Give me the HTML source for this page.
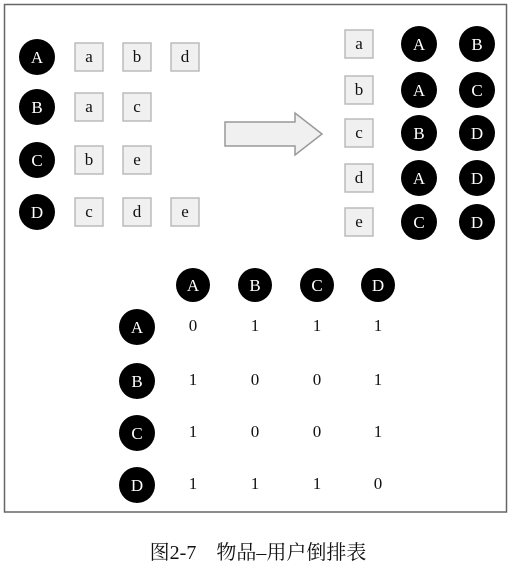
<!DOCTYPE html>
<html><head><meta charset="utf-8"><style>
html,body{margin:0;padding:0;background:#fff;width:512px;height:568px;overflow:hidden}
svg text{font-family:"Liberation Serif","Noto Serif CJK SC",serif}
</style></head><body>
<svg width="512" height="568" viewBox="0 0 512 568">
<rect x="4.5" y="4.5" width="502" height="507.5" fill="none" stroke="#666" stroke-width="1.5"/>
<polygon points="225,122 295,122 295,113 322,134 295,155 295,146 225,146" fill="#f0f0f0" stroke="#999" stroke-width="1.5"/>
<g id="g"></g>
<text x="258" y="559" font-size="20" text-anchor="middle" fill="#111" style='font-family:"Liberation Serif","Noto Serif CJK SC",serif'>图2-7　物品–用户倒排表</text>
</svg>
<script>
const users=["A","B","C","D"];
const userItems=[["a","b","d"],["a","c"],["b","e"],["c","d","e"]];
const items=["a","b","c","d","e"];
const itemUsers=[["A","B"],["A","C"],["B","D"],["A","D"],["C","D"]];
const matrix=[[0,1,1,1],[1,0,0,1],[1,0,0,1],[1,1,1,0]];
const NS="http://www.w3.org/2000/svg";
const g=document.getElementById("g");
function mk(t,a){const e=document.createElementNS(NS,t);for(const k in a)e.setAttribute(k,a[k]);g.appendChild(e);return e;}
function circle(cx,cy,r,label){
 const c=mk("circle",{cx:cx,cy:cy,r:r,fill:"#000"});
 
 
 const t=mk("text",{x:cx,y:cy+6,"font-size":17,fill:"#fff","text-anchor":"middle"});t.textContent=label;
 
 
}
function box(cx,cy,label){
 const r=mk("rect",{x:cx-14,y:cy-14,width:28,height:28,fill:"#f0f0f0",stroke:"#bbb","stroke-width":1.5});
 
 
 const t=mk("text",{x:cx,y:cy+5,"font-size":17,fill:"#111","text-anchor":"middle"});t.textContent=label;
 
 
}
const leftY=[57,107,160,212];
users.forEach((u,i)=>{circle(37,leftY[i],18,u);userItems[i].forEach((it,j)=>box(89+j*48,leftY[i],it));});
const rightY=[44,90,133,178,222];
items.forEach((it,i)=>{box(359,rightY[i],it);itemUsers[i].forEach((u,j)=>circle(419+j*58,rightY[i],18,u));});
const colX=[193,255,317,378],rowY=[327,381,433,485];
users.forEach((u,j)=>circle(colX[j],285,17,u));
users.forEach((u,i)=>{circle(137,rowY[i],18,u);
 matrix[i].forEach((v,j)=>{const t=mk("text",{x:colX[j],y:rowY[i]+4,"font-size":17,fill:"#111","text-anchor":"middle"});t.textContent=v;
 
 });});
</script>
</body></html>
